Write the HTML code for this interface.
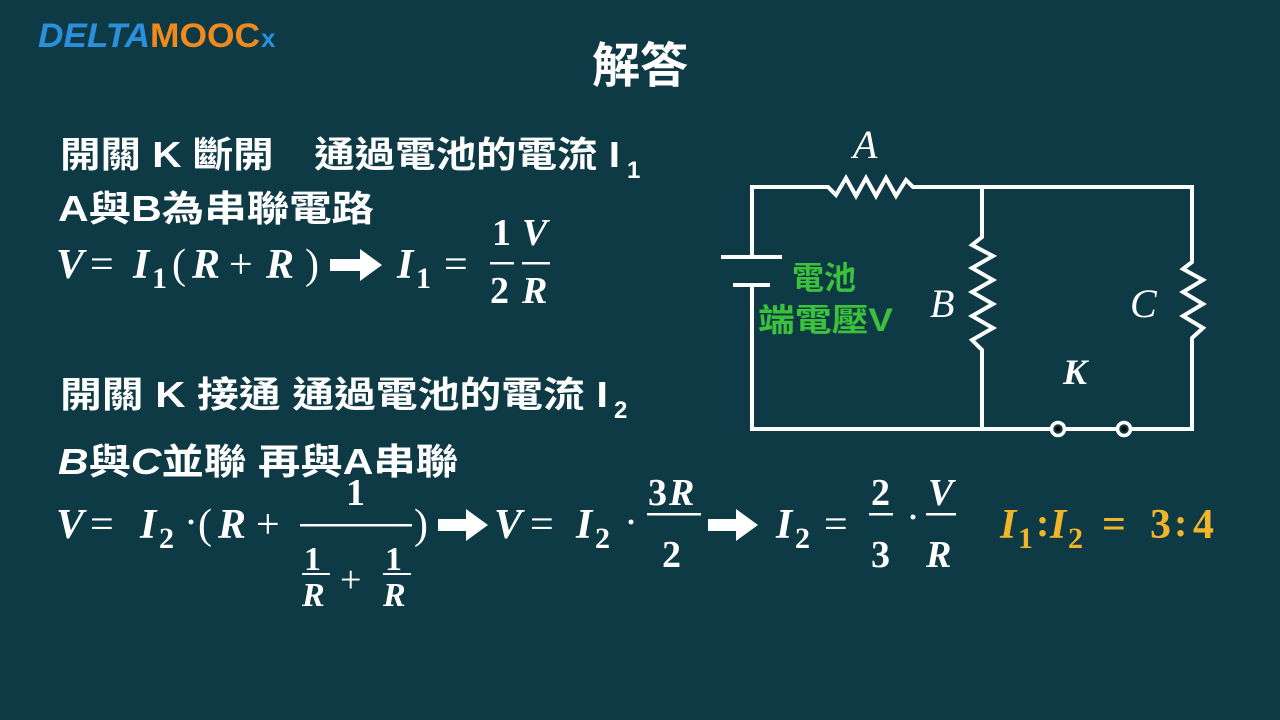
<!DOCTYPE html>
<html><head><meta charset="utf-8"><style>
html,body{margin:0;padding:0;background:#0d3a45;}
svg{display:block}
.cj{font-family:"Liberation Sans","Noto Sans CJK TC",sans-serif;font-weight:bold;fill:#fff}
.m{font-family:"Liberation Serif",serif;font-weight:bold;font-style:italic;fill:#fff}
.n{font-family:"Liberation Serif",serif;font-weight:bold;fill:#fff}
.o{font-family:"Liberation Serif",serif;fill:#fff}
</style></head><body>
<svg width="1280" height="720" viewBox="0 0 1280 720" xmlns="http://www.w3.org/2000/svg">
<rect width="1280" height="720" fill="#0d3a45"/>
<!-- logo -->
<text x="38" y="47" font-family="Liberation Sans,sans-serif" font-weight="bold" font-style="italic" font-size="34" fill="#2b8fdc" textLength="112" lengthAdjust="spacingAndGlyphs">DELTA</text>
<text x="150" y="47" font-family="Liberation Sans,sans-serif" font-weight="bold" font-size="34" fill="#f08a1c" textLength="110" lengthAdjust="spacingAndGlyphs">MOOC</text>
<text x="261" y="47" font-family="Liberation Sans,sans-serif" font-weight="bold" font-size="26" fill="#2b8fdc">x</text>
<!-- title -->
<text x="640" y="82" text-anchor="middle" class="cj" font-size="48">解答</text>
<!-- line 1 -->
<text x="60" y="167" class="cj" font-size="36" textLength="560" lengthAdjust="spacingAndGlyphs">開關 K 斷開　通過電池的電流 I</text>
<text x="627" y="178" class="cj" font-size="24">1</text>
<text x="58" y="221" class="cj" font-size="36" textLength="316" lengthAdjust="spacingAndGlyphs">A與B為串聯電路</text>
<!-- formula 1 -->
<text x="56" y="278" class="m" font-size="42">V</text>
<text x="90" y="278" class="o" font-size="42">=</text>
<text x="133" y="278" class="m" font-size="42">I</text>
<text x="152" y="288" class="n" font-size="30">1</text>
<text x="172" y="278" class="o" font-size="42">(</text>
<text x="192" y="278" class="m" font-size="42">R</text>
<text x="229" y="278" class="o" font-size="42">+</text>
<text x="266" y="278" class="m" font-size="42">R</text>
<text x="305" y="278" class="o" font-size="42">)</text>
<path d="M330 259 H360 V249 L382 265 L360 281 V271 H330 Z" fill="#fff"/>
<text x="397" y="278" class="m" font-size="42">I</text>
<text x="416" y="288" class="n" font-size="30">1</text>
<text x="444" y="278" class="o" font-size="42">=</text>
<text x="492" y="245" class="n" font-size="38">1</text>
<rect x="490" y="262" width="24" height="2.5" fill="#fff"/>
<text x="490" y="303" class="n" font-size="38">2</text>
<text x="522" y="245" class="m" font-size="38">V</text>
<rect x="522" y="262" width="28" height="2.5" fill="#fff"/>
<text x="522" y="303" class="m" font-size="38">R</text>
<!-- line 3 -->
<text x="60" y="407" class="cj" font-size="36" textLength="548" lengthAdjust="spacingAndGlyphs">開關 K 接通  通過電池的電流 I</text>
<text x="614" y="418" class="cj" font-size="24">2</text>
<text x="58" y="474" class="cj" font-size="36" textLength="400" lengthAdjust="spacingAndGlyphs"><tspan font-style="italic">B</tspan>與<tspan font-style="italic">C</tspan>並聯 再與A串聯</text>
<!-- formula 2 -->
<text x="56" y="538" class="m" font-size="42">V</text>
<text x="90" y="538" class="o" font-size="42">=</text>
<text x="140" y="538" class="m" font-size="42">I</text>
<text x="159" y="548" class="n" font-size="30">2</text>
<text x="184" y="536" class="o" font-size="42">·</text>
<text x="198" y="538" class="o" font-size="42">(</text>
<text x="218" y="538" class="m" font-size="42">R</text>
<text x="256" y="538" class="o" font-size="42">+</text>
<text x="346" y="505" class="n" font-size="38">1</text>
<rect x="300" y="524" width="112" height="2.5" fill="#fff"/>
<text x="304" y="570" class="n" font-size="34">1</text>
<rect x="302" y="573" width="28" height="2" fill="#fff"/>
<text x="302" y="606" class="m" font-size="34">R</text>
<text x="340" y="592" class="o" font-size="38">+</text>
<text x="385" y="570" class="n" font-size="34">1</text>
<rect x="383" y="573" width="28" height="2" fill="#fff"/>
<text x="383" y="606" class="m" font-size="34">R</text>
<text x="414" y="538" class="o" font-size="42">)</text>
<path d="M438 519 H466 V509 L488 525 L466 541 V531 H438 Z" fill="#fff"/>
<text x="494" y="538" class="m" font-size="42">V</text>
<text x="530" y="538" class="o" font-size="42">=</text>
<text x="576" y="538" class="m" font-size="42">I</text>
<text x="595" y="548" class="n" font-size="30">2</text>
<text x="624" y="536" class="o" font-size="42">·</text>
<text x="648" y="505" class="n" font-size="38">3</text>
<text x="669" y="505" class="m" font-size="38">R</text>
<rect x="647" y="513" width="54" height="2.5" fill="#fff"/>
<text x="662" y="567" class="n" font-size="38">2</text>
<path d="M708 519 H736 V509 L758 525 L736 541 V531 H708 Z" fill="#fff"/>
<text x="776" y="538" class="m" font-size="42">I</text>
<text x="795" y="548" class="n" font-size="30">2</text>
<text x="824" y="538" class="o" font-size="42">=</text>
<text x="871" y="505" class="n" font-size="38">2</text>
<rect x="869" y="513" width="24" height="2.5" fill="#fff"/>
<text x="871" y="567" class="n" font-size="38">3</text>
<text x="906" y="531" class="o" font-size="42">·</text>
<text x="928" y="505" class="m" font-size="38">V</text>
<rect x="926" y="513" width="30" height="2.5" fill="#fff"/>
<text x="926" y="567" class="m" font-size="38">R</text>
<g fill="#f1b52a" font-family="Liberation Serif,serif" font-weight="bold">
<text x="1000" y="538" font-style="italic" font-size="42">I</text>
<text x="1018" y="548" font-size="30">1</text>
<text x="1036" y="536" font-size="40">:</text>
<text x="1050" y="538" font-style="italic" font-size="42">I</text>
<text x="1068" y="548" font-size="30">2</text>
<text x="1102" y="538" font-size="42">=</text>
<text x="1150" y="538" font-size="42">3</text>
<text x="1174" y="536" font-size="40">:</text>
<text x="1193" y="538" font-size="42">4</text>
</g>
<!-- circuit -->
<g stroke="#fff" stroke-width="4" fill="none" stroke-linejoin="miter">
<path d="M721 257 H782 M733 285 H770"/>
<path d="M752 257 V187 H828 L836 195 L846 178 L856 196 L866 178 L876 196 L886 178 L896 196 L906 180 L913 187 H1192 V262 L1183 269 L1203 280 L1183 292 L1203 304 L1183 316 L1203 328 L1192 338 V429 H752 V285"/>
<path d="M982 187 V237 L972 245 L993 256 L972 268 L993 280 L972 292 L993 304 L972 316 L993 328 L972 340 L982 350 V429"/>
</g>
<circle cx="1058" cy="429" r="6.5" fill="#0d3a45" stroke="#fff" stroke-width="3.5"/>
<circle cx="1124" cy="429" r="6.5" fill="#0d3a45" stroke="#fff" stroke-width="3.5"/>
<circle cx="1058" cy="429" r="2.5" fill="#000"/>
<circle cx="1124" cy="429" r="2.5" fill="#000"/>
<text x="853" y="158" font-family="Liberation Serif,serif" font-style="italic" font-size="40" fill="#fff">A</text>
<text x="930" y="317" font-family="Liberation Serif,serif" font-style="italic" font-size="40" fill="#fff">B</text>
<text x="1130" y="317" font-family="Liberation Serif,serif" font-style="italic" font-size="40" fill="#fff">C</text>
<text x="1063" y="384" font-family="Liberation Serif,serif" font-style="italic" font-weight="bold" font-size="36" fill="#fff">K</text>
<text x="792" y="289" font-family="Liberation Sans,'Noto Sans CJK TC',sans-serif" font-weight="bold" font-size="32" fill="#3cc13c">電池</text>
<text x="758" y="331" font-family="Liberation Sans,'Noto Sans CJK TC',sans-serif" font-weight="bold" font-size="32" fill="#3cc13c" textLength="135" lengthAdjust="spacingAndGlyphs">端電壓V</text>
</svg>
</body></html>
